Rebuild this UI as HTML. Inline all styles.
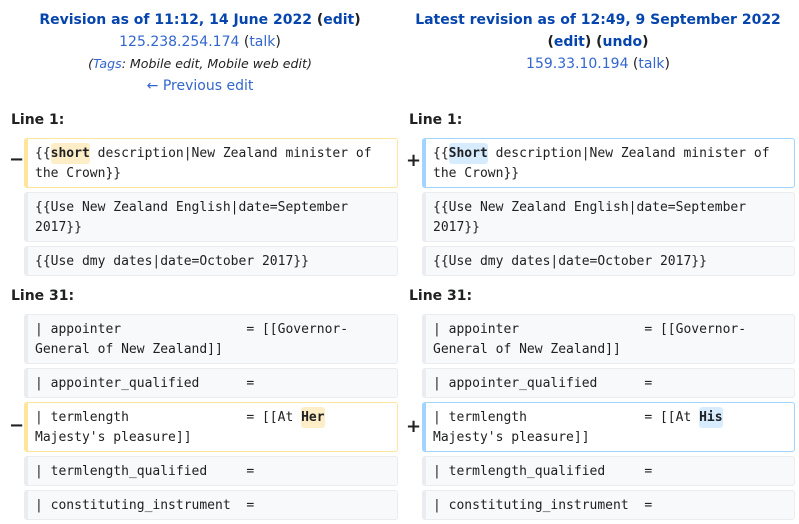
<!DOCTYPE html>
<html><head><meta charset="utf-8"><style>
body{margin:0;width:799px;height:524px;background:#fff;font-family:"DejaVu Sans","Liberation Sans",sans-serif;color:#202122;position:relative;overflow:hidden}
.h{position:absolute;text-align:center;font-size:14px;line-height:22px}
.h a{color:#0645ad;text-decoration:none}
.b{font-weight:bold}
.ln{position:absolute;font-weight:bold;font-size:14px}
.box{position:absolute;box-sizing:border-box;font-family:"DejaVu Sans Mono","Liberation Mono",monospace;font-size:13px;line-height:20px;padding:5px 10px 4px 7px;white-space:pre-wrap;border-radius:3px;background:#f8f9fa;border:1px solid #eaecf0;border-left-width:4px;color:#202122}
.del{background:#fff;border-color:#ffe49c}
.add{background:#fff;border-color:#a3d3ff}
.del b{background:#feeec8;border-radius:3px;padding:3px 0}
.add b{background:#d8ecff;border-radius:3px;padding:3px 0}
.sg{position:absolute;font-weight:bold;font-size:18px}
</style></head><body>
<div class="h" style="left:0;width:400px;top:9px">
<div class="b"><a href="#">Revision as of 11:12, 14 June 2022</a> (<a href="#">edit</a>)</div>
<div><a href="#" style="color:#3366cc">125.238.254.174</a> (<a href="#" style="color:#3366cc">talk</a>)</div>
<div style="font-style:italic;font-size:12.6px">(<a href="#" style="color:#3366cc">Tags</a>: Mobile edit, Mobile web edit)</div>
<div><a href="#" style="color:#3366cc">← Previous edit</a></div>
</div>
<div class="h" style="left:398px;width:400px;top:9px">
<div class="b"><a href="#">Latest revision as of 12:49, 9 September 2022</a><br>(<a href="#">edit</a>) (<a href="#">undo</a>)</div>
<div><a href="#" style="color:#3366cc">159.33.10.194</a> (<a href="#" style="color:#3366cc">talk</a>)</div>
</div>
<div class="ln" style="left:11px;top:112px">Line 1:</div>
<div class="ln" style="left:409px;top:112px">Line 1:</div>
<div class="ln" style="left:11px;top:288px">Line 31:</div>
<div class="ln" style="left:409px;top:288px">Line 31:</div>
<div class="sg" style="left:9px;top:149px">−</div>
<div class="sg" style="left:406px;top:150px">+</div>
<div class="sg" style="left:9px;top:415px">−</div>
<div class="sg" style="left:406px;top:416px">+</div>

<div class="box del" style="left:24px;top:138px;width:374px;height:50px">{{<b>short</b> description|New Zealand minister of the Crown}}</div>
<div class="box" style="left:24px;top:192px;width:374px;height:50px">{{Use New Zealand English|date=September 2017}}</div>
<div class="box" style="left:24px;top:246px;width:374px;height:30px">{{Use dmy dates|date=October 2017}}</div>
<div class="box add" style="left:422px;top:138px;width:373px;height:50px">{{<b>Short</b> description|New Zealand minister of the Crown}}</div>
<div class="box" style="left:422px;top:192px;width:373px;height:50px">{{Use New Zealand English|date=September 2017}}</div>
<div class="box" style="left:422px;top:246px;width:373px;height:30px">{{Use dmy dates|date=October 2017}}</div>

<div class="box" style="left:24px;top:314px;width:374px;height:50px">| appointer                = [[Governor-General of New Zealand]]</div>
<div class="box" style="left:24px;top:368px;width:374px;height:30px">| appointer_qualified      =</div>
<div class="box del" style="left:24px;top:402px;width:374px;height:50px">| termlength               = [[At <b>Her</b> Majesty's pleasure]]</div>
<div class="box" style="left:24px;top:456px;width:374px;height:30px">| termlength_qualified     =</div>
<div class="box" style="left:24px;top:490px;width:374px;height:30px">| constituting_instrument  =</div>

<div class="box" style="left:422px;top:314px;width:373px;height:50px">| appointer                = [[Governor-General of New Zealand]]</div>
<div class="box" style="left:422px;top:368px;width:373px;height:30px">| appointer_qualified      =</div>
<div class="box add" style="left:422px;top:402px;width:373px;height:50px">| termlength               = [[At <b>His</b> Majesty's pleasure]]</div>
<div class="box" style="left:422px;top:456px;width:373px;height:30px">| termlength_qualified     =</div>
<div class="box" style="left:422px;top:490px;width:373px;height:30px">| constituting_instrument  =</div>
</body></html>
